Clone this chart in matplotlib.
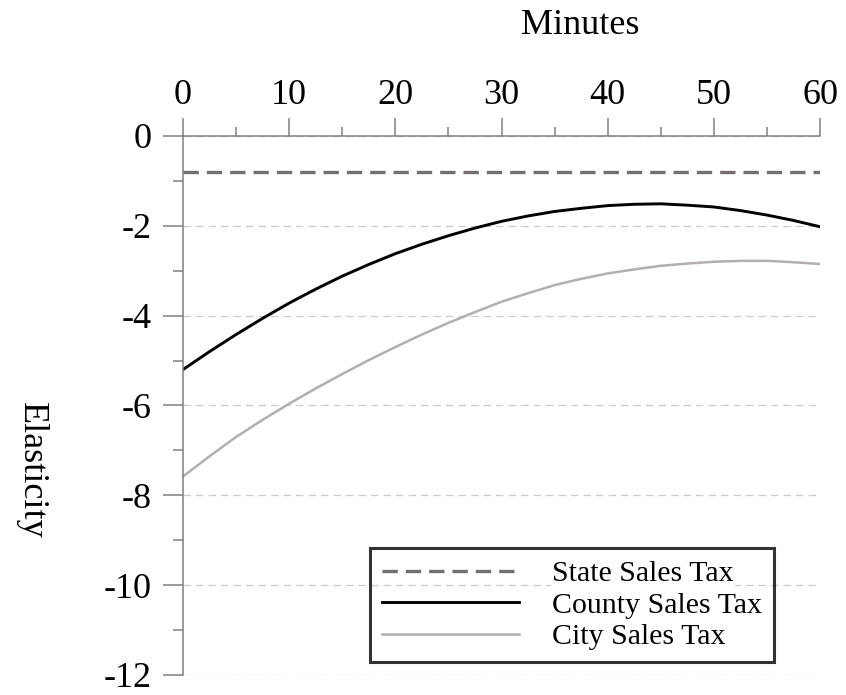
import numpy as np
import matplotlib
matplotlib.use("Agg")
import matplotlib.pyplot as plt
from matplotlib.ticker import MultipleLocator

plt.rcParams['font.family'] = ['Liberation Serif', 'DejaVu Serif']
plt.rcParams['axes.unicode_minus'] = False

# elasticity by travel time (minutes)
minutes = [0, 2.5, 5, 7.5, 10, 12.5, 15, 17.5, 20, 22.5, 25, 27.5, 30,
           32.5, 35, 37.5, 40, 42.5, 45, 47.5, 50, 52.5, 55, 57.5, 60]
state = [-0.8] * len(minutes)
county = [-5.20, -4.80, -4.42, -4.06, -3.72, -3.41, -3.12, -2.86, -2.62, -2.41,
          -2.22, -2.05, -1.90, -1.78, -1.68, -1.61, -1.55, -1.52, -1.51, -1.54,
          -1.58, -1.66, -1.76, -1.88, -2.02]
city = [-7.58, -7.13, -6.70, -6.32, -5.96, -5.62, -5.30, -4.99, -4.70, -4.42,
        -4.16, -3.92, -3.69, -3.50, -3.32, -3.18, -3.06, -2.97, -2.89, -2.84,
        -2.80, -2.78, -2.78, -2.81, -2.85]
labels = ['State Sales Tax', 'County Sales Tax', 'City Sales Tax']

fig = plt.figure(figsize=(8.46, 6.95), dpi=100)
ax = fig.add_axes([183 / 846, 1 - 675 / 695, 637 / 846, 539 / 695])

ax.plot(minutes, state, color='#747070', lw=2.4, ls=(0, (4.6, 2.4)), label=labels[0])
ax.plot(minutes, county, color='black', lw=2.1, label=labels[1])
ax.plot(minutes, city, color='#b3afaf', lw=1.8, label=labels[2])

ax.set_xlim(0, 60)
ax.set_ylim(-12, 0)

# x axis on top
ax.xaxis.tick_top()
ax.xaxis.set_major_locator(MultipleLocator(10))
ax.xaxis.set_minor_locator(MultipleLocator(5))
ax.yaxis.set_major_locator(MultipleLocator(2))
ax.yaxis.set_minor_locator(MultipleLocator(1))

for s in ['right', 'bottom']:
    ax.spines[s].set_visible(False)
for s in ['top', 'left']:
    ax.spines[s].set_color('#808080')
    ax.spines[s].set_linewidth(1.1)

ax.tick_params(axis='x', which='major', length=13, width=1.1, color='#808080',
               labelsize=26, pad=4)
ax.tick_params(axis='x', which='minor', length=6.5, width=1.1, color='#808080')
ax.tick_params(axis='y', which='major', length=14.4, width=1.1, color='#808080',
               labelsize=26, pad=8)
ax.tick_params(axis='y', which='minor', length=7.2, width=1.1, color='#808080')

ax.grid(axis='y', which='major', color='#cccccc', lw=0.9, ls=(0, (6, 4)))
ax.set_axisbelow(True)

fig.text(580 / 846, 1 - 25 / 695, 'Minutes', fontsize=26, ha='center', va='center')
fig.text(31 / 846, 1 - 470 / 695, 'Elasticity', fontsize=26, rotation=270,
         ha='center', va='center')

leg = ax.legend(loc='lower left', bbox_to_anchor=((370 - 183) / 637, (675 - 662) / 539),
                fontsize=21.5, handlelength=4.6, handletextpad=1.1, labelspacing=0.15,
                fancybox=False, edgecolor='black', facecolor='none',
                borderpad=0.4, borderaxespad=0)
leg.get_frame().set_linewidth(2.2)
for t in leg.get_texts():
    t.set_bbox(dict(facecolor='white', edgecolor='none', pad=1))

fig.savefig('out.png', dpi=100)
